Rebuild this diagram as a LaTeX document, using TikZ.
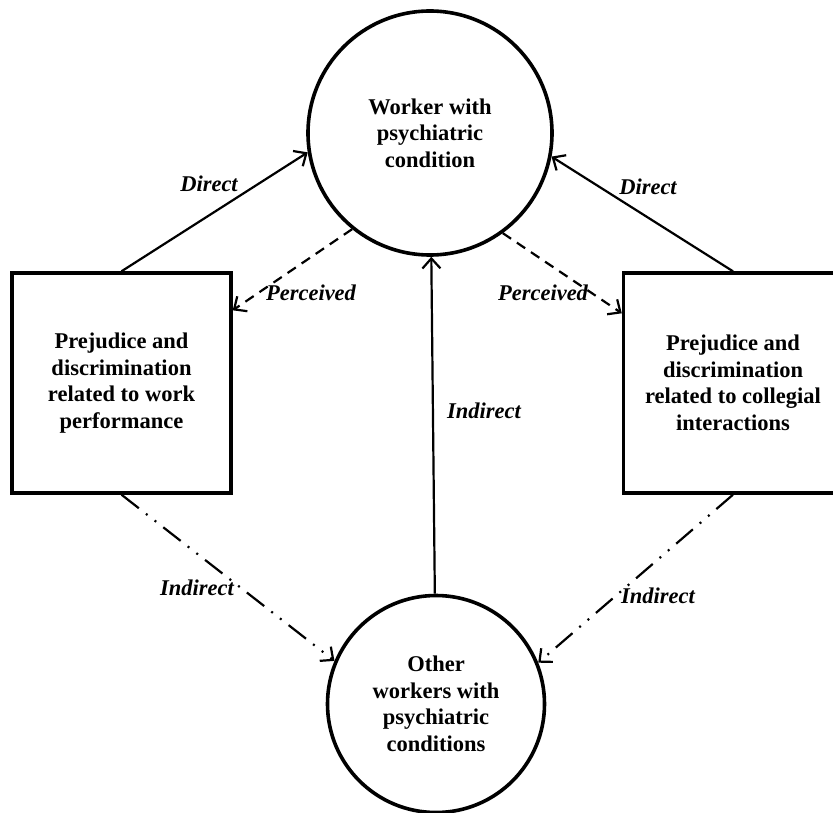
\documentclass[tikz,border=0pt]{standalone}
\usepackage{fontspec}
\setmainfont{Liberation Serif}
\usetikzlibrary{arrows.meta}
\begin{document}
\begin{tikzpicture}[x=1pt,y=-1pt,
  circ/.style={circle,draw,line width=3.6pt,minimum size=#1,inner sep=0pt,align=center,
    font=\fontsize{22.5}{26.5}\selectfont\bfseries},
  boxn/.style={rectangle,draw,line width=3.4pt,minimum width=219pt,minimum height=220pt,inner sep=0pt,align=center,
    font=\fontsize{22.5}{26.5}\selectfont\bfseries},
  lab/.style={font=\fontsize{22.5}{26.5}\selectfont\bfseries\itshape,inner sep=0pt},
  conn/.style={line width=2.2pt,-{Straight Barb[length=10pt,width=18pt,line width=2.2pt]}},
  dashedconn/.style={conn,dash pattern=on 10pt off 7pt},
  dddconn/.style={conn,dash pattern=on 22pt off 9pt on 2pt off 9pt on 2pt off 9pt}]
\useasboundingbox (0,0) rectangle (833,813);
\clip (0,0) rectangle (833,813);
\node[circ=244pt] (tc) at (430,133) {Worker with\\psychiatric\\condition};
\node[circ=217pt] (bc) at (436,704) {Other\\workers with\\psychiatric\\conditions};
\node[boxn] (lb) at (121.5,383) {Prejudice and\\discrimination\\related to work\\performance};
\node[boxn] (rb) at (733,383) {Prejudice and\\discrimination\\related to collegial\\interactions};
% connectors
\draw[conn] (lb.north) -- (tc.189.75);
\draw[conn] (rb.north) -- (tc.-11);
\draw[dashedconn] (tc.231.2) -- ([yshift=-39pt]lb.north east);
\draw[dashedconn] (tc.-54.2) -- ([yshift=-42pt]rb.north west);
\draw[conn] (bc) -- (tc);
\draw[dddconn] (lb.south) -- (bc.157.8);
\draw[dddconn] (rb.south) -- (bc.22.5);
% labels
\node[lab] (l1) at (209,184) {Direct};
\node[lab] (l2) at (648,187) {Direct};
\node[lab] (l3) at (311,293) {Perceived};
\node[lab] (l4) at (543,293) {Perceived};
\node[lab] (l5) at (484,411) {Indirect};
\node[lab] (l6) at (197,588) {Indirect};
\node[lab] (l7) at (658,596) {Indirect};
\end{tikzpicture}
\end{document}
